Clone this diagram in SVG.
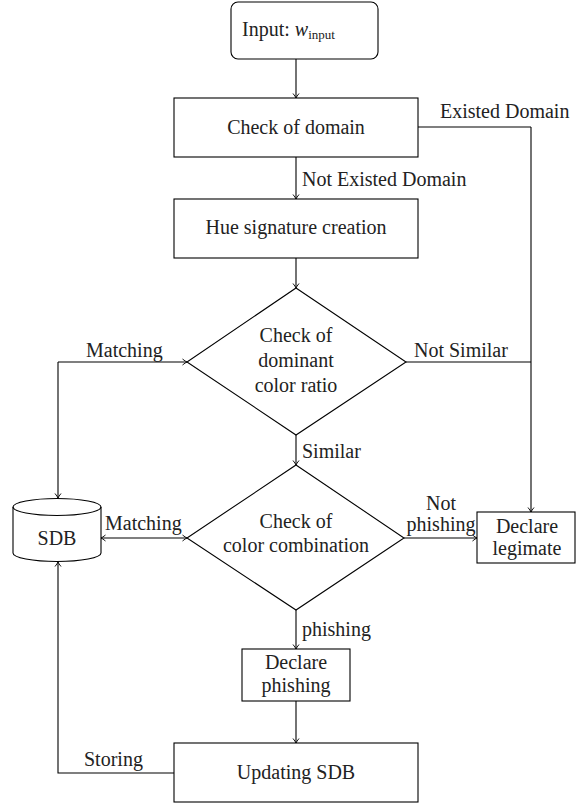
<svg xmlns="http://www.w3.org/2000/svg" width="576" height="805" viewBox="0 0 576 805">
  <defs>
    <marker id="arr" viewBox="-6 -4 8 8" refX="0" refY="0" markerWidth="8" markerHeight="8" markerUnits="userSpaceOnUse" orient="auto-start-reverse">
      <path d="M-4.5,-3 Q-1.5,-0.6 0,0 Q-1.5,0.6 -4.5,3" fill="none" stroke="#000" stroke-width="0.9"/>
    </marker>
    <style>
      .shape { fill: #fff; stroke: #000; stroke-width: 1.1; }
      .edge { fill: none; stroke: #000; stroke-width: 1.1; }
      .arrow { marker-end: url(#arr); }
      .t { font-family: "Liberation Serif", "DejaVu Serif", "Noto Serif", Tinos, FreeSerif, "Nimbus Roman", "Times New Roman", serif; font-size: 20px; fill: #222; }
      .c { text-anchor: middle; }
    </style>
  </defs>
  <rect width="576" height="805" fill="#fff"/>

  <!-- connectors -->
  <g id="edges">
    <path class="edge arrow" d="M296,59 V98"/>
    <path class="edge arrow" d="M296,157 V199"/>
    <path class="edge" d="M418,127 H531"/>
    <path class="edge arrow" d="M531,127 V512"/>
    <path class="edge arrow" d="M296,258 V288"/>
    <path class="edge" d="M406,362 H531"/>
    <path class="edge arrow" d="M58,362 H187"/>
    <path class="edge arrow" d="M58,362 V498"/>
    <path class="edge arrow" d="M296,435 V465"/>
    <path class="edge arrow" d="M404,538 H477"/>
    <path class="edge arrow" d="M145,538 H187"/>
    <path class="edge arrow" d="M145,538 H101"/>
    <path class="edge arrow" d="M296,610 V649"/>
    <path class="edge arrow" d="M296,701 V743"/>
    <path class="edge arrow" d="M174,773 H58 V562"/>
    <text class="t" x="440" y="118">Existed Domain</text>
    <text class="t" x="302" y="186">Not Existed Domain</text>
    <text class="t" x="86" y="357">Matching</text>
    <text class="t" x="414" y="357">Not Similar</text>
    <text class="t" x="302" y="458">Similar</text>
    <text class="t" x="105" y="530">Matching</text>
    <text class="t c" x="441" y="510">Not</text>
    <text class="t c" x="441" y="531">phishing</text>
    <text class="t" x="302" y="636">phishing</text>
    <text class="t" x="84" y="766">Storing</text>
  </g>

  <g id="input">
    <rect class="shape" x="231" y="2" width="147" height="57" rx="7"/>
    <text class="t" x="242" y="36">Input: <tspan font-style="italic">w</tspan><tspan font-size="13" dy="3">input</tspan></text>
  </g>

  <g id="check-domain">
    <rect class="shape" x="174" y="98" width="244" height="59"/>
    <text class="t c" x="296" y="134">Check of domain</text>
  </g>

  <g id="hue-signature">
    <rect class="shape" x="174" y="199" width="244" height="59"/>
    <text class="t c" x="296" y="234">Hue signature creation</text>
  </g>

  <g id="check-ratio">
    <polygon class="shape" points="296,288 406,362 296,435 187,362"/>
    <text class="t c" x="296" y="342">Check of</text>
    <text class="t c" x="296" y="367">dominant</text>
    <text class="t c" x="296" y="392">color ratio</text>
  </g>

  <g id="check-combination">
    <polygon class="shape" points="296,465 404,538 296,610 187,538"/>
    <text class="t c" x="296" y="528">Check of</text>
    <text class="t c" x="296" y="552">color combination</text>
  </g>

  <g id="sdb">
    <path class="shape" d="M13,507 V553 A44,8.5 0 0 0 101,553 V507 A44,8.5 0 0 0 13,507 Z"/>
    <path class="edge" d="M13,507 A44,8.5 0 0 0 101,507"/>
    <text class="t c" x="57" y="545">SDB</text>
  </g>

  <g id="declare-legimate">
    <rect class="shape" x="477" y="512" width="98" height="51"/>
    <text class="t c" x="527" y="533">Declare</text>
    <text class="t c" x="527" y="555">legimate</text>
  </g>

  <g id="declare-phishing">
    <rect class="shape" x="242" y="649" width="108" height="52"/>
    <text class="t c" x="296" y="669">Declare</text>
    <text class="t c" x="296" y="692">phishing</text>
  </g>

  <g id="updating-sdb">
    <rect class="shape" x="174" y="743" width="244" height="59"/>
    <text class="t c" x="296" y="779">Updating SDB</text>
  </g>
</svg>
